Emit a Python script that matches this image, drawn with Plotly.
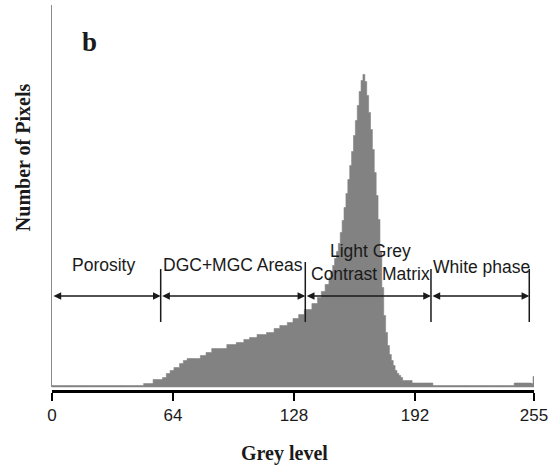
import plotly.graph_objects as go

# grey levels 0..255 and pixel counts (arbitrary units)
grey_levels = list(range(256))
pixel_counts = [
    2, 2, 2, 2, 2, 2, 2, 2, 2, 2, 2, 2, 2, 2, 2, 2,
    2, 2, 2, 2, 2, 2, 2, 2, 2, 2, 2, 2, 2, 2, 2, 2,
    2, 2, 2, 2, 2, 2, 2, 2, 2, 2, 2, 2, 2, 2, 2, 2,
    2, 4, 4, 4, 4, 4, 8, 8, 8, 8, 8, 10, 10, 14, 14, 17,
    17, 20, 20, 20, 24, 24, 27, 27, 29, 29, 29, 29, 29, 29, 29, 32,
    32, 32, 35, 35, 35, 39, 39, 39, 39, 39, 39, 39, 39, 43, 43, 43,
    43, 43, 45, 45, 45, 45, 48, 48, 48, 50, 50, 50, 50, 53, 53, 53,
    53, 53, 55, 55, 55, 55, 59, 59, 59, 62, 62, 62, 62, 65, 65, 65,
    69, 69, 69, 73, 73, 73, 78, 78, 78, 78, 84, 84, 84, 90, 90, 96,
    96, 103, 103, 110, 116, 122, 129, 136, 144, 155, 167, 180, 194, 208, 222, 236,
    252, 267, 282, 296, 307, 313, 306, 292, 275, 258, 238, 215, 192, 168, 135, 100,
    72, 55, 42, 33, 27, 22, 17, 14, 12, 10, 7, 7, 7, 7, 7, 4.5,
    4.5, 4.5, 4.5, 4.5, 4.5, 4.5, 4.5, 4.5, 4.5, 4.5, 2, 2, 2, 2, 2, 2,
    2, 2, 2, 2, 2, 2, 2, 2, 2, 2, 2, 2, 2, 2, 2, 2,
    2, 2, 2, 2, 2, 2, 2, 2, 2, 2, 2, 2, 2, 2, 2, 2,
    2, 2, 2, 2, 2, 4.5, 4.5, 4.5, 4.5, 4.5, 4.5, 4.5, 4.5, 4.5, 4, 11,
]
tick_vals = [0, 64, 128, 192, 255]

# phase boundaries (grey level) and labels
boundaries = [0, 57.5, 134, 200.5, 252.5]
region_labels = ["Porosity", "DGC+MGC Areas", "Light Grey<br>Contrast Matrix", "White phase"]

fig = go.Figure()
fig.add_trace(go.Scatter(x=grey_levels, y=pixel_counts, mode="lines", line_shape="hvh",
                         fill="tozeroy", fillcolor="#828282",
                         line=dict(color="#828282", width=0.6), hoverinfo="skip"))

sans = "Liberation Sans, Arial, sans-serif"
serif = "Liberation Serif, Times New Roman, serif"
ink = "#1a1a1a"

arrow_y = 91.5
shapes = []
annotations = []
for b in boundaries[1:]:
    top = 125.5 if b == 134 else 118.5
    shapes.append(dict(type="line", xref="x", yref="y", x0=b, x1=b, y0=65.5, y1=top,
                       line=dict(color=ink, width=1.5)))
for a, b in zip(boundaries[:-1], boundaries[1:]):
    annotations.append(dict(x=b, y=arrow_y, ax=a, ay=arrow_y, xref="x", yref="y",
                            axref="x", ayref="y", text="", showarrow=True,
                            arrowhead=2, arrowside="end+start", arrowsize=1.1,
                            arrowwidth=1.4, arrowcolor=ink))

label_pos = [(27.4, 122.5), (95.5, 122.5), (168.5, 125), (227.0, 120.8)]
for txt, (lx, ly) in zip(region_labels, label_pos):
    annotations.append(dict(x=lx, y=ly, xref="x", yref="y", text=txt, showarrow=False,
                            xanchor="center", yanchor="middle",
                            font=dict(family=sans, size=17.5, color=ink), align="center"))

# titles placed in paper coordinates (outside the axis ranges)
annotations += [
    dict(x=0.483, y=-0.161, xref="paper", yref="paper", text="<b>Grey level</b>",
         xanchor="center", yanchor="middle",
         showarrow=False, font=dict(family=serif, size=20, color=ink)),
    dict(x=-0.060, y=0.606, xref="paper", yref="paper", text="<b>Number of Pixels</b>",
         xanchor="center", yanchor="middle",
         textangle=-90, showarrow=False, font=dict(family=serif, size=20, color=ink)),
    dict(x=0.077, y=0.904, xref="paper", yref="paper", text="<b>b</b>", showarrow=False,
         xanchor="center", yanchor="middle",
         font=dict(family=serif, size=27, color=ink)),
]

fig.update_layout(
    width=557, height=466,
    margin=dict(l=52, r=23, t=5, b=75),
    plot_bgcolor="white", paper_bgcolor="white",
    showlegend=False,
    shapes=shapes, annotations=annotations,
    xaxis=dict(range=[0, 255], anchor="free", position=0, showgrid=False, zeroline=False,
               showline=True, linecolor="black", linewidth=2.5,
               ticks="outside", ticklen=8, tickwidth=2, tickcolor="black",
               tickvals=tick_vals, ticktext=[str(t) for t in tick_vals],
               tickfont=dict(family=sans, size=17, color=ink)),
    yaxis=dict(range=[0, 382.5], domain=[0.00907, 1], showgrid=False, zeroline=False,
               showline=True, linecolor="#8a8a8a", linewidth=1.2,
               showticklabels=False, ticks=""),
)

# drop the default page margin so the figure sits at the window origin
fig.write_html("out.html", config={"displayModeBar": False},
               post_script="document.body.style.margin='0px';")
